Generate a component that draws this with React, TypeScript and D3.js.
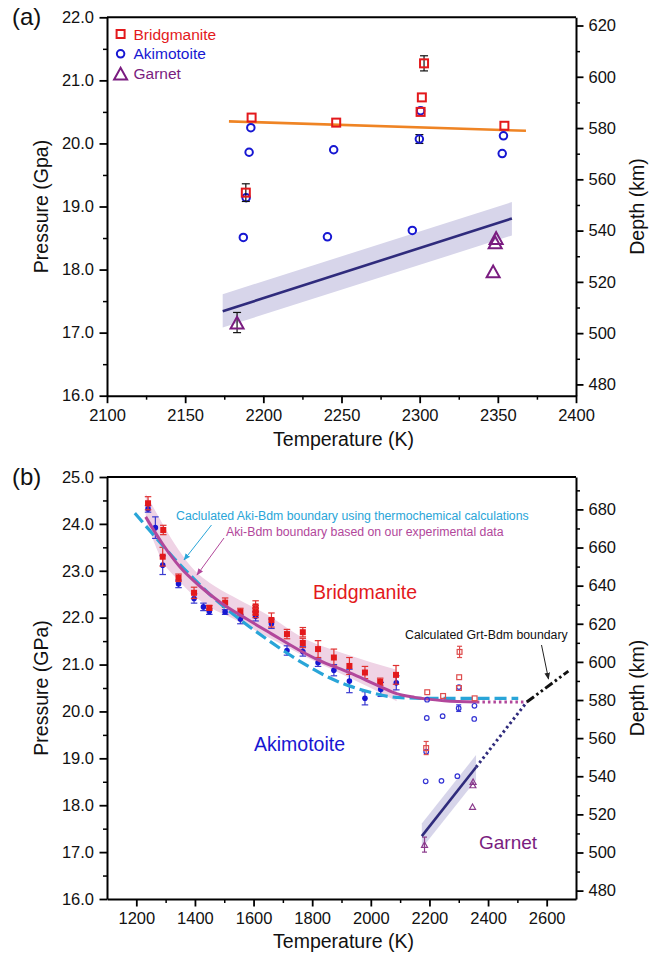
import React, { useEffect, useRef } from "react";
import * as d3 from "d3";

const FONT = "'Liberation Sans', Arial, Helvetica, sans-serif";

// ---- observed phases (panel a, also re-plotted small in panel b) ----
const bdmT = [2192.5, 2188.8, 2246.6, 2302.8, 2301.4, 2300.6, 2354.2];
const bdmP = [20.41, 19.22, 20.33, 21.27, 20.73, 20.5, 20.28];
const bdmErr = [0, 0.14, 0, 0.12, 0, 0, 0];

const akiT = [2192, 2190.9, 2189, 2187.2, 2245, 2241, 2295.3, 2299.8, 2300.6, 2353.6, 2352.8];
const akiP = [20.25, 19.86, 19.14, 18.51, 19.9, 18.52, 18.62, 20.07, 20.52, 20.12, 19.84];
const akiErr = [0, 0, 0, 0, 0, 0, 0, 0.07, 0, 0, 0];

const grtT = [2183.2, 2348.9, 2348.3, 2347];
const grtP = [17.16, 18.5, 18.43, 17.97];
const grtErr = [0.16, 0, 0, 0];

// fitted boundaries
const bdmFitT = [2178, 2368];
const bdmFitP = [20.35, 20.2];
const grtFitT = [2174, 2359];
const grtFitP = [17.34, 18.81];
const grtBandLo = [17.08, 18.54];
const grtBandHi = [17.61, 19.07];

// ---- panel b: Aki-Bdm experiments ----
const redT = [1240, 1292, 1290, 1344, 1397, 1449, 1503, 1555, 1607, 1607, 1607, 1661, 1714, 1768, 1768, 1820, 1874, 1927, 1980, 2032, 2086];
const redP = [24.44, 23.87, 23.3, 22.85, 22.53, 22.21, 22.32, 22.12, 22.24, 22.16, 22.1, 21.95, 21.65, 21.69, 21.46, 21.33, 21.15, 20.97, 20.83, 20.63, 20.78];
const redErr = [0.14, 0.1, 0.2, 0.08, 0.12, 0.05, 0.1, 0.08, 0.12, 0.1, 0.1, 0.15, 0.1, 0.1, 0.1, 0.18, 0.18, 0.18, 0.13, 0.08, 0.2];

const blueT = [1240, 1265, 1290, 1344, 1397, 1429, 1449, 1503, 1555, 1607, 1661, 1714, 1768, 1820, 1874, 1927, 1980, 2034, 2087];
const blueP = [24.32, 23.92, 23.12, 22.72, 22.41, 22.23, 22.13, 22.12, 21.97, 22.03, 21.87, 21.3, 21.28, 21.04, 20.88, 20.65, 20.28, 20.47, 20.61];
const blueErr = [0.07, 0.23, 0.2, 0.08, 0.1, 0.08, 0.06, 0.05, 0.1, 0.1, 0.1, 0.1, 0.1, 0.08, 0.12, 0.25, 0.14, 0.15, 0.15];

// boundary based on experiments (solid), with its uncertainty band
const expT = [1232, 1292, 1349, 1417, 1486, 1577, 1660, 1758, 1820, 1929, 2032, 2088, 2150, 2250, 2362];
const expP = [24.15, 23.55, 23.08, 22.67, 22.33, 21.97, 21.66, 21.3, 21.1, 20.82, 20.53, 20.38, 20.3, 20.23, 20.2];
const bandT = [1232, 1290, 1344, 1400, 1451, 1530, 1650, 1760, 1900, 2000, 2088];
const bandHi = [24.65, 24.0, 23.45, 23.0, 22.74, 22.45, 22.05, 21.6, 21.25, 21.05, 20.89];
const bandLo = [24.1, 23.2, 22.8, 22.45, 22.22, 21.98, 21.58, 21.22, 20.8, 20.5, 20.22];
const expExtT = [2362, 2532];
const expExtP = [20.2, 20.2];

// thermochemical Aki-Bdm boundary
const calcT = [1195, 1300, 1340, 1406, 1450, 1554, 1650, 1758, 1872, 1929, 1986, 2088, 2191, 2300, 2503];
const calcP = [24.23, 23.47, 23.19, 22.77, 22.5, 21.96, 21.52, 21.07, 20.68, 20.54, 20.43, 20.3, 20.28, 20.28, 20.28];

// Grt-Bdm extrapolation and calculated Grt-Bdm boundary
const grtExtT = [2359, 2532];
const grtExtP = [18.81, 20.2];
const grtCalcT = [2532, 2674];
const grtCalcP = [20.2, 20.86];

// depth axis (km) as a linear function of pressure
const DEPTH_AT_16 = 475.6;
const KM_PER_GPA = 24.6;

const RED = "#e3191c";
const BLUE = "#1717d2";
const PURPLE = "#7a1c80";
const NAVY = "#2f2b7c";
const ORANGE = "#ef8424";
const CYAN = "#29a5d8";
const MAGENTA = "#b2479b";

const zip = (a: number[], b: number[]) => a.map((v, i) => [v, b[i]] as [number, number]);

const App = () => {
  const svgRef = useRef<SVGSVGElement>(null);

  const drawAxes = (svg: any, x: any, y: any, box: any, o: any) => {
    const { l, r, t, b } = box;
    const styleAxis = (g: any, minor = false) => {
      g.selectAll(".domain").attr("stroke", "#000").attr("stroke-width", 2);
      g.selectAll(".tick line").attr("stroke", "#000").attr("stroke-width", minor ? 1.5 : 1.8);
      g.selectAll(".tick text")
        .attr("font-family", FONT)
        .attr("font-size", 16.5)
        .attr("fill", "#111");
    };
    const d = d3
      .scaleLinear()
      .domain([DEPTH_AT_16 + KM_PER_GPA * (y.domain()[0] - 16), DEPTH_AT_16 + KM_PER_GPA * (y.domain()[1] - 16)])
      .range(y.range());

    // minor ticks first
    svg.append("g").attr("transform", `translate(0,${b})`)
      .call(d3.axisBottom(x).tickValues(o.xMinor).tickSize(4).tickFormat(() => ""))
      .call((g: any) => { g.select(".domain").remove(); styleAxis(g, true); });
    svg.append("g").attr("transform", `translate(${l},0)`)
      .call(d3.axisLeft(y).tickValues(o.yMinor).tickSize(4).tickFormat(() => ""))
      .call((g: any) => { g.select(".domain").remove(); styleAxis(g, true); });
    svg.append("g").attr("transform", `translate(${r},0)`)
      .call(d3.axisRight(d).tickValues(o.dMinor).tickSize(4).tickFormat(() => ""))
      .call((g: any) => { g.select(".domain").remove(); styleAxis(g, true); });

    svg.append("g").attr("transform", `translate(0,${b})`)
      .call(d3.axisBottom(x).tickValues(o.xTicks).tickSize(7.5).tickSizeOuter(0).tickPadding(6).tickFormat(d3.format("d")))
      .call((g: any) => styleAxis(g));
    svg.append("g").attr("transform", `translate(${l},0)`)
      .call(d3.axisLeft(y).tickValues(o.yTicks).tickSize(7.5).tickSizeOuter(0).tickPadding(5.5).tickFormat(d3.format(".1f")))
      .call((g: any) => styleAxis(g));
    svg.append("g").attr("transform", `translate(${r},0)`)
      .call(d3.axisRight(d).tickValues(o.dTicks).tickSize(7.5).tickSizeOuter(0).tickPadding(5).tickFormat(d3.format("d")))
      .call((g: any) => styleAxis(g));

    // top frame
    svg.append("line").attr("x1", l).attr("x2", r).attr("y1", t).attr("y2", t)
      .attr("stroke", "#000").attr("stroke-width", 2);

    const txt = (s: string, tx: number, ty: number, rot: number, size: number) =>
      svg.append("text")
        .attr("transform", `translate(${tx},${ty}) rotate(${rot})`)
        .attr("text-anchor", "middle")
        .attr("font-family", FONT)
        .attr("font-size", size)
        .attr("fill", "#111")
        .text(s);
    txt("Temperature (K)", (l + r) / 2 + 2, b + o.titleGap, 0, 19.5);
    txt(o.yTitle, 48, (t + b) / 2, -90, 19.5);
    txt("Depth (km)", 643.5, (t + b) / 2, -90, 19.5);
    svg.append("text").attr("x", 12).attr("y", t + 7.5).attr("font-family", FONT)
      .attr("font-size", 24).attr("fill", "#111").text(o.tag);
  };

  const drawMarkers = (g: any, x: any, y: any, Ts: number[], Ps: number[], errs: number[], shape: string, color: string, size: number, sw: number, fill: string, errColor: string, cap: number) => {
    Ts.forEach((T, i) => {
      const cx = x(T);
      const cy = y(Ps[i]);
      if (errs[i] > 0) {
        const y0 = y(Ps[i] - errs[i]);
        const y1 = y(Ps[i] + errs[i]);
        g.append("line").attr("x1", cx).attr("x2", cx).attr("y1", y0).attr("y2", y1)
          .attr("stroke", errColor).attr("stroke-width", 1.2);
        [y0, y1].forEach((yy) =>
          g.append("line").attr("x1", cx - cap / 2).attr("x2", cx + cap / 2).attr("y1", yy).attr("y2", yy)
            .attr("stroke", errColor).attr("stroke-width", 1.2));
      }
      if (shape === "square") {
        g.append("rect").attr("x", cx - size / 2).attr("y", cy - size / 2).attr("width", size).attr("height", size)
          .attr("fill", fill).attr("stroke", color).attr("stroke-width", sw);
      } else if (shape === "circle") {
        g.append("circle").attr("cx", cx).attr("cy", cy).attr("r", size / 2)
          .attr("fill", fill).attr("stroke", color).attr("stroke-width", sw);
      } else {
        const h = size * 0.9;
        g.append("path")
          .attr("d", `M${cx - size / 2},${cy + h / 2}L${cx + size / 2},${cy + h / 2}L${cx},${cy - h / 2}Z`)
          .attr("fill", fill).attr("stroke", color).attr("stroke-width", sw).attr("stroke-linejoin", "miter");
      }
    });
  };

  useEffect(() => {
    const svg = d3.select(svgRef.current);
    svg.selectAll("*").remove();

    const defs = svg.append("defs");
    [["arrC", CYAN], ["arrM", MAGENTA], ["arrK", "#222"]].forEach(([id, c]) => {
      defs.append("marker").attr("id", id).attr("viewBox", "0 0 10 10").attr("refX", 9).attr("refY", 5)
        .attr("markerWidth", 7).attr("markerHeight", 7).attr("orient", "auto")
        .append("path").attr("d", "M0,1L10,5L0,9Z").attr("fill", c);
    });

    const line = (x: any, y: any) => d3.line<[number, number]>().x((d) => x(d[0])).y((d) => y(d[1]));

    // ================= panel (a) =================
    const A = { l: 107, r: 576, t: 17.3, b: 395.7 };
    const xa = d3.scaleLinear().domain([2100, 2400]).range([A.l, A.r]);
    const ya = d3.scaleLinear().domain([16, 22]).range([A.b, A.t]);
    const ga = svg.append("g");

    ga.append("path")
      .datum(grtBandLo.map((v, i) => [grtFitT[i], v, grtBandHi[i]]))
      .attr("d", d3.area<any>().x((d) => xa(d[0])).y0((d) => ya(d[1])).y1((d) => ya(d[2])))
      .attr("fill", "#d7d5ea");
    ga.append("path").datum(zip(grtFitT, grtFitP)).attr("d", line(xa, ya))
      .attr("fill", "none").attr("stroke", NAVY).attr("stroke-width", 2.6);
    ga.append("path").datum(zip(bdmFitT, bdmFitP)).attr("d", line(xa, ya))
      .attr("fill", "none").attr("stroke", ORANGE).attr("stroke-width", 2.6);

    drawMarkers(ga, xa, ya, akiT, akiP, akiErr, "circle", BLUE, 7.5, 2, "none", "#111", 8);
    drawMarkers(ga, xa, ya, bdmT, bdmP, bdmErr, "square", RED, 8, 2, "none", "#111", 8);
    drawMarkers(ga, xa, ya, grtT, grtP, grtErr, "triangle", PURPLE, 13, 2, "none", "#111", 8);

    // legend
    const legend = [
      ["Bridgmanite", RED, "square", 8],
      ["Akimotoite", BLUE, "circle", 7.5],
      ["Garnet", PURPLE, "triangle", 13],
    ];
    legend.forEach(([name, c, shape, s]: any, i) => {
      const ly = 34 + i * 19.8;
      const lg = ga.append("g");
      const fx = d3.scaleLinear().domain([0, 1]).range([120.6, 121.6]);
      const fy = d3.scaleLinear().domain([0, 1]).range([ly, ly + 1]);
      drawMarkers(lg, fx, fy, [0], [0], [0], shape, c, s, 2, "none", c, 0);
      ga.append("text").attr("x", 133.5).attr("y", ly + 5.5).attr("font-family", FONT)
        .attr("font-size", 15.5).attr("fill", c).text(name);
    });

    drawAxes(ga, xa, ya, A, {
      xTicks: d3.range(2100, 2401, 50), xMinor: d3.range(2125, 2400, 50),
      yTicks: d3.range(16, 22.01, 1), yMinor: d3.range(16.5, 22, 1),
      dTicks: d3.range(480, 621, 20), dMinor: d3.range(490, 620, 20),
      yTitle: "Pressure (Gpa)", titleGap: 50.5, tag: "(a)",
    });

    // ================= panel (b) =================
    const B = { l: 107, r: 576, t: 477, b: 899 };
    const xb = d3.scaleLinear().domain([1100, 2700]).range([B.l, B.r]);
    const yb = d3.scaleLinear().domain([16, 25]).range([B.b, B.t]);
    const gb = svg.append("g");

    gb.append("path")
      .datum(bandT.map((T, i) => [T, bandLo[i], bandHi[i]]))
      .attr("d", d3.area<any>().x((d) => xb(d[0])).y0((d) => yb(d[1])).y1((d) => yb(d[2])).curve(d3.curveMonotoneX))
      .attr("fill", "#efd3e5");
    gb.append("path")
      .datum(grtBandLo.map((v, i) => [grtFitT[i], v, grtBandHi[i]]))
      .attr("d", d3.area<any>().x((d) => xb(d[0])).y0((d) => yb(d[1])).y1((d) => yb(d[2])))
      .attr("fill", "#d7d5ea");

    drawMarkers(gb, xb, yb, blueT, blueP, blueErr, "circle", BLUE, 5.6, 0, BLUE, "#3a3ad0", 6.5);
    drawMarkers(gb, xb, yb, redT, redP, redErr, "square", RED, 6, 0, RED, "#e03030", 6.5);

    gb.append("path").datum(zip(calcT, calcP))
      .attr("d", line(xb, yb).curve(d3.curveMonotoneX))
      .attr("fill", "none").attr("stroke", CYAN).attr("stroke-width", 3.2)
      .attr("stroke-dasharray", "12,5");
    gb.append("path").datum(zip(expT, expP))
      .attr("d", line(xb, yb).curve(d3.curveMonotoneX))
      .attr("fill", "none").attr("stroke", MAGENTA).attr("stroke-width", 3);
    gb.append("path").datum(zip(expExtT, expExtP)).attr("d", line(xb, yb))
      .attr("fill", "none").attr("stroke", MAGENTA).attr("stroke-width", 3)
      .attr("stroke-dasharray", "2.5,3");

    drawMarkers(gb, xb, yb, akiT, akiP, akiErr, "circle", "#3434d4", 4.6, 1.2, "none", "#3434d4", 5);
    drawMarkers(gb, xb, yb, bdmT, bdmP, bdmErr, "square", "#de4c4c", 4.8, 1.2, "none", "#de4c4c", 5);
    drawMarkers(gb, xb, yb, grtT, grtP, grtErr, "triangle", "#8a3a8c", 6, 1.2, "none", "#8a3a8c", 5);

    gb.append("path").datum(zip(grtFitT, grtFitP)).attr("d", line(xb, yb))
      .attr("fill", "none").attr("stroke", NAVY).attr("stroke-width", 2.6);
    gb.append("path").datum(zip(grtExtT, grtExtP)).attr("d", line(xb, yb))
      .attr("fill", "none").attr("stroke", NAVY).attr("stroke-width", 3)
      .attr("stroke-dasharray", "2.5,3");
    gb.append("path").datum(zip(grtCalcT, grtCalcP)).attr("d", line(xb, yb))
      .attr("fill", "none").attr("stroke", "#111").attr("stroke-width", 3)
      .attr("stroke-dasharray", "9,3,2.5,3,2.5,3");

    // annotations
    const note = (s: string, x0: number, y0: number, c: string, size: number) =>
      gb.append("text").attr("x", x0).attr("y", y0).attr("font-family", FONT)
        .attr("font-size", size).attr("fill", c).text(s);
    note("Caclulated Aki-Bdm boundary using thermochemical calculations", 176, 520, CYAN, 12.3);
    note("Aki-Bdm boundary based on our experimental data", 226, 535.5, MAGENTA, 12.3);
    note("Calculated Grt-Bdm boundary", 405, 639, "#111", 12.3);
    note("Bridgmanite", 313, 598.5, RED, 19.5);
    note("Akimotoite", 254, 751, BLUE, 19.5);
    note("Garnet", 479, 848.5, PURPLE, 19);

    const arrow = (x1: number, y1: number, x2: number, y2: number, c: string, id: string) =>
      gb.append("line").attr("x1", x1).attr("y1", y1).attr("x2", x2).attr("y2", y2)
        .attr("stroke", c).attr("stroke-width", 1).attr("marker-end", `url(#${id})`);
    arrow(211.5, 525, 184, 560, CYAN, "arrC");
    arrow(224, 538, 197, 575, MAGENTA, "arrM");
    arrow(541.5, 645, 548.5, 679, "#222", "arrK");

    drawAxes(gb, xb, yb, B, {
      xTicks: d3.range(1200, 2601, 200), xMinor: d3.range(1300, 2600, 200),
      yTicks: d3.range(16, 25.01, 1), yMinor: d3.range(16.5, 25, 1),
      dTicks: d3.range(480, 681, 20), dMinor: d3.range(490, 691, 20),
      yTitle: "Pressure (GPa)", titleGap: 49, tag: "(b)",
    });
  }, []);

  return (
    <svg
      ref={svgRef}
      width={650}
      height={959}
      style={{ position: "absolute", left: 0, top: 0, background: "#fff" }}
    />
  );
};

export default App;
